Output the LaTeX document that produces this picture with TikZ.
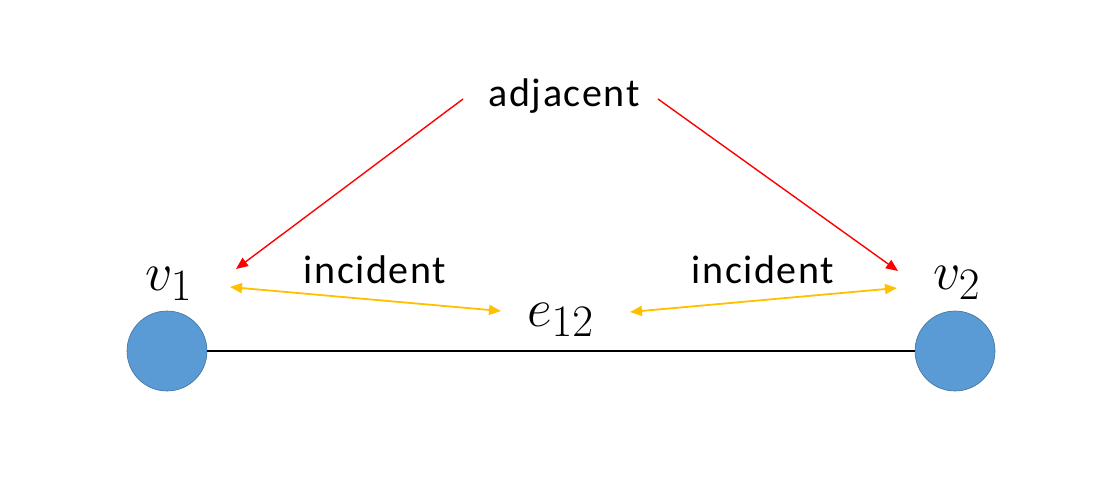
\RequirePackage{fix-cm}
\documentclass[tikz,border=0pt]{standalone}
\usepackage{fontspec}
\setmainfont{Carlito}
\newfontfamily\lblfont[LetterSpace=4]{Carlito}
\DeclareMathSizes{54}{54}{45}{36}
\usetikzlibrary{arrows.meta}
\definecolor{vblue}{HTML}{5B9BD5}
\definecolor{vborder}{HTML}{41719C}
\definecolor{incol}{HTML}{FFC000}
\begin{document}
\begin{tikzpicture}[x=1pt,y=-1pt,
  vertex/.style={circle,fill=vblue,draw=vborder,line width=0.6pt,minimum size=80pt,inner sep=0pt},
  lbl/.style={inner sep=0pt,anchor=base,font=\lblfont\fontsize{40}{44}\selectfont},
  mlbl/.style={inner sep=0pt,anchor=base west,font=\fontsize{54}{60}\selectfont},
  adj/.style={draw=red,line width=1.4pt,-{Triangle[length=12pt,width=10pt]}},
  inc/.style={draw=incol,line width=1.8pt,{Triangle[length=12pt,width=10pt]}-{Triangle[length=12pt,width=10pt]}}]
\useasboundingbox (0,0) rectangle (1115,499);
\node[vertex] (v1) at (167,351) {};
\node[vertex] (v2) at (955,351) {};
\draw[line width=1.4pt] (v1) -- (v2);
\node[mlbl] (l1) at (145,290) {$v_1$};
\node[mlbl] (l2) at (933,289) {$v_2$};
\node[mlbl] (e) at (527,326) {$e_{12}$};
\node[lbl] (adjt) at (564,106) {adjacent};
\node[lbl] (incl) at (375,283) {incident};
\node[lbl] (incr) at (763,283) {incident};
\coordinate (a1s) at (463,99);
\coordinate (a1e) at (236,269);
\coordinate (a2s) at (658,99);
\coordinate (a2e) at (898,271);
\coordinate (i1a) at (230,287);
\coordinate (i1b) at (501,311);
\coordinate (i2a) at (630,312);
\coordinate (i2b) at (897,288);
\draw[adj] (a1s) -- (a1e);
\draw[adj] (a2s) -- (a2e);
\draw[inc] (i1a) -- (i1b);
\draw[inc] (i2a) -- (i2b);
\end{tikzpicture}
\end{document}
